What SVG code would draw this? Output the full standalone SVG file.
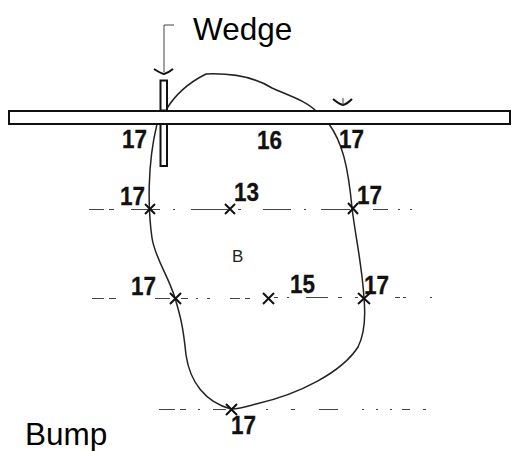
<svg xmlns="http://www.w3.org/2000/svg" width="512" height="451" viewBox="0 0 512 451">
<style>
.b{font-family:"Liberation Sans",Arial,sans-serif;font-weight:700;font-size:25px;fill:#111;stroke:#111;stroke-width:.3}
.t{font-family:"Liberation Sans",Arial,sans-serif;font-size:31.500px;fill:#000}
.c{fill:none;stroke:#222;stroke-width:1.5}
.h{fill:none;stroke:#444;stroke-width:1}
.x{fill:none;stroke:#111;stroke-width:2}
</style>
<rect width="512" height="451" fill="#fff"/>
<g id="centerlines">
<path class="h" d="M89 209.500H104M109 209.500H114M131 209.500H160M173 209.500H175M191 209.500H228M238 209.500H241M263 209.500H291M304 209.500H306M321 209.500H350M373 209.500H388M398 209.500H400M410 209.500H412"/>
<path class="h" d="M92 298.500H104M109 298.500H116M155 298.500H170M181 298.500H188M196 298.500H198M207 298.500H210M230 298.500H240M245 298.500H250M274 297.500H278M287 297.500H289M306 297.500H328M338 297.500H342M355 297.500H358M395 297.500H400M403 297.500H406M430 297.500H432"/>
<path class="h" d="M159 409.500H175M180 409.500H186M198 409.500H200M213 409.500H226M266 409.500H268M291 409.500H295M319 409.500H338M362 409.500H364M376 409.500H378M390 409.500H392M402 409.500H410M423 409.500H426"/>
</g>
<g id="outline">
<path class="c" d="M166 110C176 93 190 82 206 74C232 73 256 78 272 88C290 96 306 101 316 111"/>
<path class="c" d="M329 124C342 142 348 165 352 208C356 240 362 265 364 298C366 320 364 335 358 347C342 372 300 394 256 404C246 407 238 409 231 409C205 402 190 382 186 355C183 325 180 315 175 298C168 275 155 258 152 238C148 210 147 165 157 124"/>
</g>
<g id="bar"><rect x="9" y="111" width="501" height="13" fill="none" stroke="#111" stroke-width="2"/></g>
<g id="wedge">
<rect x="160.500" y="80.500" width="6.500" height="30" fill="#fff" stroke="#111" stroke-width="2"/>
<rect x="160.500" y="124" width="6.500" height="42" fill="#fff" stroke="#111" stroke-width="2"/>
</g>
<g id="connectors">
<path class="h" d="M174 25H164V72"/>
<path class="x" d="M154 69Q160 73 164 74Q168 73 173 69"/>
<path class="x" d="M333 99Q339 104 343 105Q347 104 352 99"/>
<path class="h" d="M343 98V105"/>
</g>
<g id="marks">
<path class="x" stroke-width="2.500" d="M145 204L155 214M155 204L145 214"/>
<path class="x" d="M225 204L235 214M235 204L225 214"/>
<path class="x" stroke-width="2.500" d="M348 203L358 214M358 203L348 214"/>
<path class="x" stroke-width="2.500" d="M170 293L181 304M181 293L170 304"/>
<path class="x" d="M263 293L274 304M274 293L263 304"/>
<path class="x" stroke-width="2.500" d="M358 293L370 304M370 293L358 304"/>
<path class="x" stroke-width="2.500" d="M226 404L237 415M237 404L226 415"/>
</g>
<g id="labels">
<text class="t" x="193" y="40">Wedge</text>
<text class="t" x="25" y="445">Bump</text>
<text class="b" x="122" y="148" textLength="25" lengthAdjust="spacingAndGlyphs">17</text>
<text class="b" x="257" y="149" textLength="25" lengthAdjust="spacingAndGlyphs">16</text>
<text class="b" x="339" y="148" textLength="25" lengthAdjust="spacingAndGlyphs">17</text>
<text class="b" x="120" y="205" textLength="25" lengthAdjust="spacingAndGlyphs">17</text>
<text class="b" x="234" y="201" textLength="25" lengthAdjust="spacingAndGlyphs">13</text>
<text class="b" x="357" y="204" textLength="25" lengthAdjust="spacingAndGlyphs">17</text>
<text x="232" y="262" font-family="Liberation Sans,Arial,sans-serif" font-size="17" fill="#222">B</text>
<text class="b" x="131" y="295" textLength="25" lengthAdjust="spacingAndGlyphs">17</text>
<text class="b" x="290" y="293" textLength="25" lengthAdjust="spacingAndGlyphs">15</text>
<text class="b" x="364" y="294" textLength="25" lengthAdjust="spacingAndGlyphs">17</text>
<text class="b" x="231" y="434" textLength="25" lengthAdjust="spacingAndGlyphs">17</text>
</g>
</svg>
